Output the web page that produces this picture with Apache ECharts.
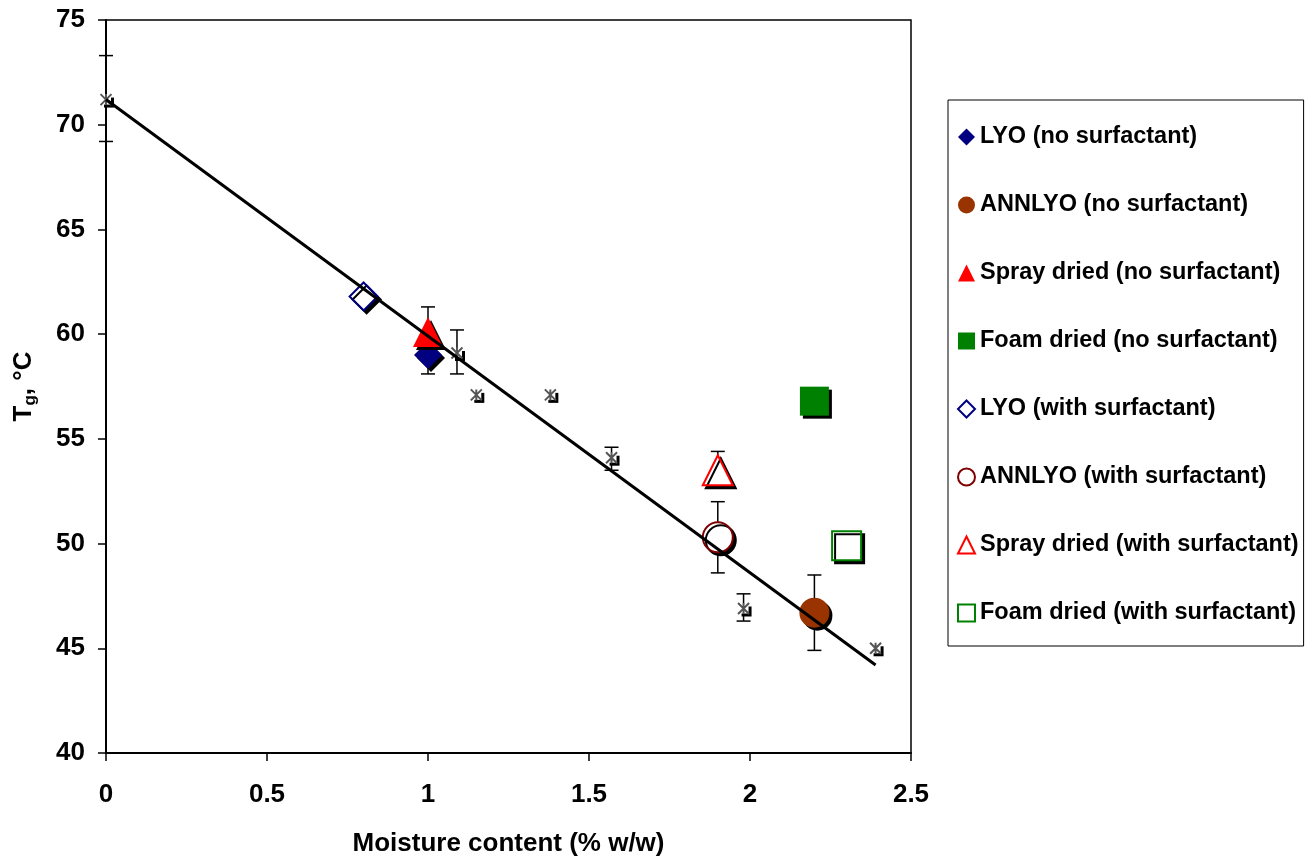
<!DOCTYPE html>
<html>
<head>
<meta charset="utf-8">
<script src="https://cdn.jsdelivr.net/npm/echarts@6/dist/echarts.min.js"></script>
<style>
  html, body { margin: 0; padding: 0; background: #fff; }
  #chart { width: 1308px; height: 861px; }
</style>
</head>
<body>
<div id="chart"></div>
<script>
// moisture content (% w/w), Tg (C)
var lyoNoSurf = [[1.0, 59.0]];
var annNoSurf = [[2.2, 46.7]];
var sprayNoSurf = [[1.0, 60.1]];
var foamNoSurf = [[2.2, 56.8]];
var lyoSurf = [[0.8, 61.8]];
var annSurf = [[1.9, 50.3]];
var spraySurf = [[1.9, 53.5]];
var foamSurf = [[2.3, 49.9]];
var refPoints = [[0, 71.2], [1.09, 59.1], [1.15, 57.1], [1.38, 57.1], [1.57, 54.1], [1.98, 46.9], [2.39, 45.0]];
var fitLine = [[0, 71.2], [2.39, 44.2]];
// x, low, high
var errorBars = [[0, 69.2, 73.3], [1.09, 58.1, 60.2], [1.57, 53.5, 54.6], [1.98, 46.3, 47.6],
  [1.0, 58.1, 61.3], [1.9, 48.6, 52.0], [1.9, 52.8, 54.4], [2.2, 44.9, 48.5]];
var xTicks = [0, 0.5, 1, 1.5, 2, 2.5];
var yTicks = [40, 45, 50, 55, 60, 65, 70, 75];

var chart = echarts.init(document.getElementById('chart'));

var font = 'Liberation Sans, Arial, sans-serif';
var shadow = { shadowColor: '#000', shadowBlur: 0, shadowOffsetX: 3, shadowOffsetY: 3 };

function filled (name, data, symbol, size, color) {
  return {
    name: name, type: 'scatter', data: data, symbol: symbol, symbolSize: size, z: 5,
    itemStyle: Object.assign({ color: color, opacity: 1 }, shadow)
  };
}
function hollow (name, data, symbol, size, color) {
  return {
    name: name, type: 'scatter', data: data, symbol: symbol, symbolSize: size, z: 5,
    itemStyle: Object.assign({ color: '#fff', borderColor: color, borderWidth: 2, opacity: 1 }, shadow)
  };
}

chart.setOption({
  animation: false,
  textStyle: { fontFamily: font },
  grid: {
    left: 106, right: 397, top: 20, bottom: 108,
    outerBoundsMode: 'none', containLabel: false,
    show: true, borderColor: '#000', borderWidth: 1.5, backgroundColor: '#fff'
  },
  legend: {
    orient: 'vertical',
    left: 948, top: 100,
    padding: [25, 5, 21, 9],
    itemGap: 44.0,
    itemWidth: 17, itemHeight: 17,
    borderColor: '#000', borderWidth: 1,
    textStyle: { fontSize: 23.5, fontWeight: 'bold', color: '#000', fontFamily: font },
    itemStyle: { shadowColor: 'rgba(0,0,0,0)', shadowOffsetX: 0, shadowOffsetY: 0 },
    data: ['LYO (no surfactant)', 'ANNLYO (no surfactant)', 'Spray dried (no surfactant)', 'Foam dried (no surfactant)',
      'LYO (with surfactant)', 'ANNLYO (with surfactant)', 'Spray dried (with surfactant)', 'Foam dried (with surfactant)']
  },
  xAxis: {
    type: 'value', min: 0, max: 2.5, interval: 0.5,
    name: 'Moisture content (% w/w)', nameLocation: 'middle', nameGap: 78,
    nameTextStyle: { fontSize: 26, fontWeight: 'bold', color: '#000' },
    axisLine: { lineStyle: { color: '#000', width: 2 } },
    axisTick: { show: true, inside: false, length: 8, lineStyle: { color: '#000', width: 1.5 } },
    axisLabel: { margin: 29, fontSize: 26, fontWeight: 'bold', color: '#000',
      customValues: xTicks, formatter: function (v) { return String(v); } },
    splitLine: { show: false }
  },
  yAxis: {
    type: 'value', min: 40, max: 75, interval: 5,
    name: '{t|T}{s|g}{t|, °C}', nameLocation: 'middle', nameGap: 67, nameRotate: 90,
    nameTextStyle: {
      color: '#000',
      rich: {
        t: { fontSize: 26, fontWeight: 'bold', color: '#000', fontFamily: font },
        s: { fontSize: 17, fontWeight: 'bold', color: '#000', fontFamily: font, padding: [13, 0, 0, 0] }
      }
    },
    axisLine: { show: true, lineStyle: { color: '#000', width: 2 } },
    axisTick: { show: true, inside: false, length: 8, lineStyle: { color: '#000', width: 1.5 } },
    axisLabel: { margin: 21, fontSize: 26, fontWeight: 'bold', color: '#000',
      customValues: yTicks },
    splitLine: { show: false }
  },
  series: [
    {
      type: 'custom', z: 3, silent: true,
      data: errorBars,
      renderItem: function (params, api) {
        var x = api.value(0);
        var lo = api.coord([x, api.value(1)]);
        var hi = api.coord([x, api.value(2)]);
        var w = 7;
        var st = { stroke: '#000', lineWidth: 1.5 };
        return {
          type: 'group',
          children: [
            { type: 'line', shape: { x1: lo[0], y1: lo[1], x2: hi[0], y2: hi[1] }, style: st },
            { type: 'line', shape: { x1: lo[0] - w, y1: lo[1], x2: lo[0] + w, y2: lo[1] }, style: st },
            { type: 'line', shape: { x1: hi[0] - w, y1: hi[1], x2: hi[0] + w, y2: hi[1] }, style: st }
          ]
        };
      }
    },
    {
      type: 'scatter', data: refPoints, symbol: 'rect', symbolSize: 10, z: 4, silent: true,
      itemStyle: Object.assign({ color: '#fff', opacity: 1 }, shadow)
    },
    {
      type: 'scatter', data: refPoints, symbol: 'path://M0,0L10,10M10,0L0,10M5,0L5,10', symbolSize: 11, z: 4, silent: true,
      itemStyle: { color: 'none', borderColor: '#555', borderWidth: 2, opacity: 1 }
    },
    filled('LYO (no surfactant)', lyoNoSurf, 'diamond', 28, '#000080'),
    filled('ANNLYO (no surfactant)', annNoSurf, 'circle', 30, '#993300'),
    filled('Spray dried (no surfactant)', sprayNoSurf, 'triangle', 30, '#ff0000'),
    filled('Foam dried (no surfactant)', foamNoSurf, 'rect', 29, '#008000'),
    hollow('LYO (with surfactant)', lyoSurf, 'diamond', 28, '#000080'),
    hollow('ANNLYO (with surfactant)', annSurf, 'circle', 30, '#800000'),
    hollow('Spray dried (with surfactant)', spraySurf, 'triangle', 30, '#ff0000'),
    hollow('Foam dried (with surfactant)', foamSurf, 'rect', 29, '#008000'),
    {
      type: 'line', data: fitLine, symbol: 'none', z: 6, silent: true,
      lineStyle: { color: '#000', width: 3 }
    }
  ]
});
</script>
</body>
</html>
